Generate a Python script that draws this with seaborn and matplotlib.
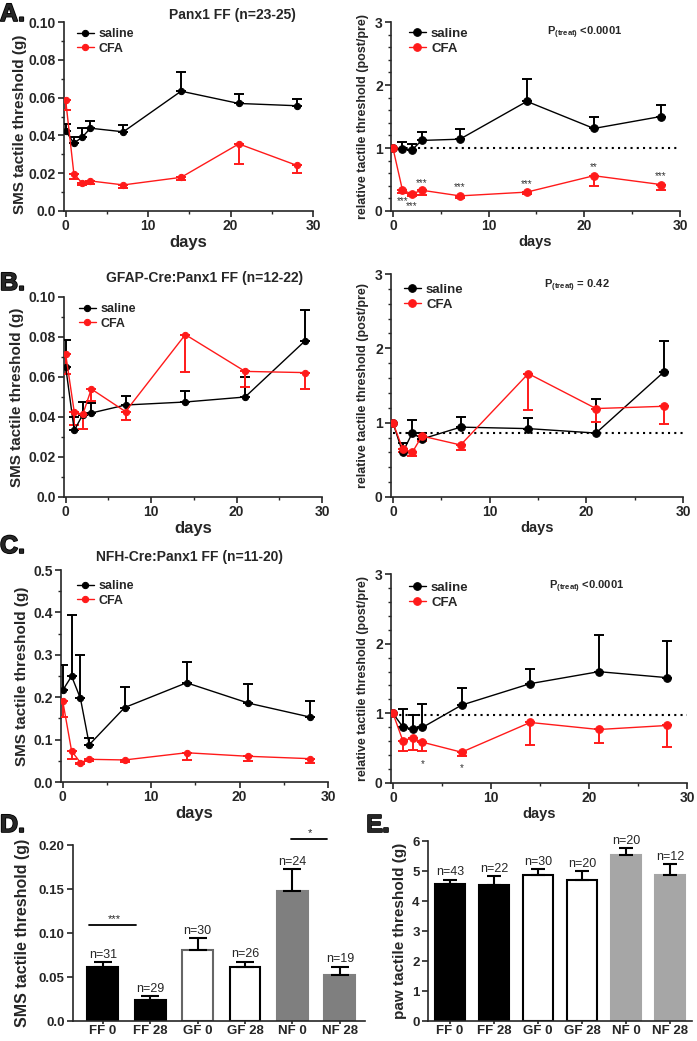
import matplotlib
matplotlib.use('Agg')
import matplotlib.pyplot as plt
import matplotlib.patheffects as pe
import numpy as np
import seaborn as sns
from matplotlib.ticker import MultipleLocator, FixedLocator

sns.set_style('ticks')
plt.rcParams['font.family'] = ['Liberation Sans', 'DejaVu Sans']
plt.rcParams['mathtext.fontset'] = 'custom'
plt.rcParams['mathtext.rm'] = 'Liberation Sans'
plt.rcParams['mathtext.bf'] = 'Liberation Sans:bold'
plt.rcParams['axes.linewidth'] = 1.2

W, H = 697, 1041

# ---- data ----
days = [0, 1, 2, 3, 7, 14, 21, 28]

# Panel A - Panx1 FF
A_sms_sal = [0.0424, 0.0359, 0.0390, 0.0438, 0.0419, 0.0634, 0.0569, 0.0557]
A_sms_sal_err = [0.0036, 0.0031, 0.0049, 0.0039, 0.0037, 0.0099, 0.0051, 0.0037]
A_sms_cfa = [0.0587, 0.0196, 0.0148, 0.0159, 0.0138, 0.0178, 0.0355, 0.0242]
A_sms_cfa_err = [0.0055, 0.0026, 0.0012, 0.0018, 0.0016, 0.0016, 0.0106, 0.0039]
A_rel_sal = [1.0, 0.99, 0.97, 1.12, 1.14, 1.74, 1.31, 1.50]
A_rel_sal_err = [0, 0.11, 0.10, 0.14, 0.16, 0.36, 0.18, 0.19]
A_rel_cfa = [1.0, 0.33, 0.27, 0.33, 0.24, 0.30, 0.56, 0.42]
A_rel_cfa_err = [0, 0.04, 0.03, 0.08, 0.03, 0.03, 0.16, 0.08]

# Panel B - GFAP-Cre:Panx1 FF
B_sms_sal = [0.0650, 0.0333, 0.0412, 0.0420, 0.0460, 0.0475, 0.0500, 0.0780]
B_sms_sal_err = [0.0133, 0.0067, 0.0063, 0.0050, 0.0043, 0.0055, 0.0100, 0.0153]
B_sms_cfa = [0.0713, 0.0425, 0.0413, 0.0540, 0.0427, 0.0812, 0.0628, 0.0622]
B_sms_cfa_err = [0.0096, 0.0063, 0.0073, 0.0060, 0.0040, 0.0187, 0.0078, 0.0084]
B_rel_sal = [1.0, 0.60, 0.86, 0.78, 0.94, 0.92, 0.86, 1.68]
B_rel_sal_err = [0, 0.12, 0.17, 0.08, 0.14, 0.14, 0.46, 0.42]
B_rel_cfa = [1.0, 0.65, 0.60, 0.82, 0.70, 1.66, 1.19, 1.22]
B_rel_cfa_err = [0, 0.05, 0.05, 0.06, 0.07, 0.49, 0.18, 0.24]

# Panel C - NFH-Cre:Panx1 FF
C_sms_sal = [0.2165, 0.2496, 0.1970, 0.0880, 0.1756, 0.2340, 0.1860, 0.1530]
C_sms_sal_err = [0.0605, 0.1444, 0.1030, 0.0160, 0.0474, 0.0490, 0.0450, 0.0390]
C_sms_cfa = [0.1906, 0.0730, 0.0457, 0.0535, 0.0520, 0.0690, 0.0606, 0.0550]
C_sms_cfa_err = [0.0366, 0.0195, 0.0040, 0.0040, 0.0060, 0.0180, 0.0116, 0.0100]
C_rel_sal = [1.0, 0.806, 0.778, 0.797, 1.118, 1.426, 1.598, 1.512]
C_rel_sal_err = [0, 0.254, 0.196, 0.333, 0.250, 0.216, 0.522, 0.533]
C_rel_cfa = [1.0, 0.610, 0.643, 0.586, 0.442, 0.869, 0.768, 0.826]
C_rel_cfa_err = [0, 0.144, 0.163, 0.130, 0.058, 0.327, 0.192, 0.308]

baselines = [1.0, 0.86, 0.98]
p_texts = ['<0.0001', '= 0.42', '<0.0001']
titles = ['Panx1 FF (n=23-25)', 'GFAP-Cre:Panx1 FF (n=12-22)', 'NFH-Cre:Panx1 FF (n=11-20)']

# significance stars on relative panels: (day, y, text)
A_stars = [(1, 0.16, '***'), (2, 0.08, '***'), (3, 0.44, '***'), (7, 0.38, '***'),
           (14, 0.42, '***'), (21, 0.70, '**'), (28, 0.55, '***')]
C_stars = [(3, 0.27, '*'), (7, 0.22, '*')]

# Panels D / E bars
groups = ['FF 0', 'FF 28', 'GF 0', 'GF 28', 'NF 0', 'NF 28']
D_mean = [0.0612, 0.0244, 0.0810, 0.0612, 0.1475, 0.0518]
D_err = [0.0056, 0.0036, 0.0128, 0.0063, 0.0251, 0.0097]
D_n = [31, 29, 30, 26, 24, 19]
E_mean = [4.57, 4.54, 4.87, 4.71, 5.52, 4.86]
E_err = [0.14, 0.28, 0.19, 0.28, 0.24, 0.37]
E_n = [43, 22, 30, 20, 20, 12]


def rect(x0, y0, x1, y1):
    return [x0 / W, 1 - y1 / H, (x1 - x0) / W, (y1 - y0) / H]


def ftext(x, y, s, **kw):
    return fig.text(x / W, 1 - y / H, s, **kw)


def letter(x, y, s):
    t = ftext(x, y, s, ha='left', va='top', fontsize=18, fontweight='bold')
    t.set_path_effects([pe.withStroke(linewidth=1.2, foreground='black')])


def style_axis(ax, lab=10, xlen=4):
    sns.despine(ax=ax)
    ax.tick_params(which='major', length=4, width=1.2, labelsize=lab, pad=2)
    ax.tick_params(axis='x', which='major', length=xlen)
    ax.tick_params(which='minor', length=2, width=1.0)
    for t in ax.get_xticklabels() + ax.get_yticklabels():
        t.set_fontweight('bold')


def time_course(ax, sal, sal_err, cfa, cfa_err, ms, legend_xy, legsize, lab):
    zeros = np.zeros(len(days))
    sns.lineplot(x=days, y=sal, color='black', marker='o', markersize=ms,
                 markeredgecolor='black', linewidth=1.0, ax=ax, label='saline', zorder=4)
    ax.errorbar(days, sal, yerr=[zeros, sal_err], fmt='none', ecolor='black',
                elinewidth=1.4, capsize=3.5, capthick=1.4, zorder=3)
    sns.lineplot(x=days, y=cfa, color='#ff1a1a', marker='o', markersize=ms,
                 markeredgecolor='#ff1a1a', linewidth=1.0, ax=ax, label='CFA', zorder=5)
    ax.errorbar(days, cfa, yerr=[cfa_err, zeros], fmt='none', ecolor='#ff1a1a',
                elinewidth=1.4, capsize=3.5, capthick=1.4, zorder=3)
    ax.set_xlim(-0.2, 30)
    ax.xaxis.set_major_locator(MultipleLocator(10))
    ax.xaxis.set_minor_locator(MultipleLocator(5))
    ax.set_xlabel('days', fontsize=lab, fontweight='bold', labelpad=1)
    lx, ly = legend_xy
    ax.legend(loc='upper left', bbox_to_anchor=(lx / W, 1 - ly / H),
              bbox_transform=fig.transFigure, frameon=False, borderpad=0,
              handlelength=1.3, handletextpad=0.4, labelspacing=0.2,
              prop={'weight': 'bold', 'size': legsize})


fig = plt.figure(figsize=(W / 100, H / 100), dpi=100)

left_rects = [rect(64, 22, 313, 211), rect(64, 297, 322, 497), rect(61, 570, 328, 782)]
right_rects = [rect(391, 22, 680, 211), rect(391, 274, 683, 497), rect(391, 574, 687, 783)]
sms_data = [(A_sms_sal, A_sms_sal_err, A_sms_cfa, A_sms_cfa_err),
            (B_sms_sal, B_sms_sal_err, B_sms_cfa, B_sms_cfa_err),
            (C_sms_sal, C_sms_sal_err, C_sms_cfa, C_sms_cfa_err)]
rel_data = [(A_rel_sal, A_rel_sal_err, A_rel_cfa, A_rel_cfa_err),
            (B_rel_sal, B_rel_sal_err, B_rel_cfa, B_rel_cfa_err),
            (C_rel_sal, C_rel_sal_err, C_rel_cfa, C_rel_cfa_err)]
left_leg = [(71, 22), (73, 297), (71, 574)]
right_leg = [(402, 21), (397, 277), (402, 575)]
title_pos = [(232, 15), (205, 278), (190, 557)]
p_pos = [(547, 33), (544, 286), (549, 587)]
letters = [('A.', 0, 2), ('B.', 0, 271), ('C.', 0, 534)]
ylims_left = [(0.10, 0.01, ['0.0', '0.02', '0.04', '0.06', '0.08', '0.10']),
              (0.10, 0.01, ['0.0', '0.02', '0.04', '0.06', '0.08', '0.10']),
              (0.5, 0.05, ['0.0', '0.1', '0.2', '0.3', '0.4', '0.5'])]

for i in range(3):
    # left: absolute SMS threshold
    ax = fig.add_axes(left_rects[i])
    s, se, c, ce = sms_data[i]
    time_course(ax, s, se, c, ce, 4.5, left_leg[i], 9, 12)
    top, mstep, labs = ylims_left[i]
    ax.set_ylim(0, top)
    ax.yaxis.set_major_locator(FixedLocator(np.linspace(0, top, len(labs))))
    ax.set_yticklabels(labs)
    ax.yaxis.set_minor_locator(MultipleLocator(mstep))
    ax.set_ylabel('SMS tactile threshold (g)', fontsize=11, fontweight='bold', labelpad=3)
    if i == 0:
        ax.yaxis.set_label_coords(-0.15, 0.46)
    style_axis(ax, 10)
    ftext(*title_pos[i], titles[i], ha='center', va='center', fontsize=10, fontweight='bold')
    letter(letters[i][1], letters[i][2], letters[i][0])

    # right: relative threshold
    ax = fig.add_axes(right_rects[i])
    s, se, c, ce = rel_data[i]
    ax.plot([0, 30], [baselines[i], baselines[i]], color='black', linestyle=(0, (1, 2)),
            linewidth=1.5, zorder=1)
    time_course(ax, s, se, c, ce, 5.5, right_leg[i], 9.5, 10.5)
    ax.set_ylim(0, 3)
    ax.yaxis.set_major_locator(MultipleLocator(1))
    ax.yaxis.set_minor_locator(MultipleLocator(0.2))
    ax.set_ylabel('relative tactile threshold (post/pre)', fontsize=9,
                  fontweight='bold', labelpad=4)
    style_axis(ax, 10)
    ftext(*p_pos[i], r'$\mathbf{P_{(treat)}}$ ' + p_texts[i], ha='left', va='center',
          fontsize=8, fontweight='bold')
    stars = A_stars if i == 0 else (C_stars if i == 2 else [])
    for d, y, t in stars:
        ax.text(d, y, t, ha='center', va='center', fontsize=7, color='#333333')


def bar_panel(ax, means, errs, ns, palette, edges, width, cap):
    sns.barplot(x=groups, y=means, hue=groups, palette=palette, legend=False,
                width=width, linewidth=1.5, saturation=1, ax=ax, zorder=2)
    for p, ec in zip(ax.patches, edges):
        p.set_edgecolor(ec)
    ax.errorbar(range(len(groups)), means, yerr=[np.zeros(len(means)), errs], fmt='none',
                ecolor='black', elinewidth=1.5, capsize=cap, capthick=1.5, zorder=3)
    for k, (m, e, n) in enumerate(zip(means, errs, ns)):
        ax.annotate(f'n={n}', (k, m + e), xytext=(0, 1), textcoords='offset points',
                    ha='center', va='bottom', fontsize=9)
    ax.set_xlabel('')


# D
ax = fig.add_axes(rect(73, 845, 365, 1021))
bar_panel(ax, D_mean, D_err, D_n,
          ['black', 'black', 'white', 'white', '#7f7f7f', '#7f7f7f'],
          ['black', 'black', '#666666', 'black', '#7f7f7f', '#7f7f7f'], 0.65, 6.5)
ax.set_ylim(0, 0.20)
ax.set_xlim(-0.63, 5.53)
ax.yaxis.set_major_locator(FixedLocator([0, 0.05, 0.10, 0.15, 0.20]))
ax.set_yticklabels(['0.0', '0.05', '0.10', '0.15', '0.20'])
ax.set_ylabel('SMS tactile threshold (g)', fontsize=11.5, fontweight='bold', labelpad=6)
style_axis(ax, 9.5, xlen=2)
ax.tick_params(axis='x', pad=1)
ax.plot([-0.3, 0.7], [0.1088, 0.1088], color='black', linewidth=1.3, clip_on=False)
ax.text(0.25, 0.1105, '***', ha='center', va='bottom', fontsize=8)
ax.plot([3.97, 4.73], [0.2064, 0.2064], color='black', linewidth=1.3, clip_on=False)
ax.text(4.37, 0.208, '*', ha='center', va='bottom', fontsize=8)
letter(0, 813, 'D.')

# E
ax = fig.add_axes(rect(428, 841, 692, 1021))
bar_panel(ax, E_mean, E_err, E_n,
          ['black', 'black', 'white', 'white', '#a6a6a6', '#a6a6a6'],
          ['black', 'black', 'black', 'black', '#a6a6a6', '#a6a6a6'], 0.68, 4.7)
ax.set_ylim(0, 6)
ax.set_xlim(-0.5, 5.5)
ax.yaxis.set_major_locator(MultipleLocator(1))
ax.set_ylabel('paw tactile threshold (g)', fontsize=11, fontweight='bold', labelpad=4)
style_axis(ax, 9.5, xlen=2)
ax.tick_params(axis='x', pad=1)
letter(366, 813, 'E.')

fig.savefig('out.png', dpi=100)
